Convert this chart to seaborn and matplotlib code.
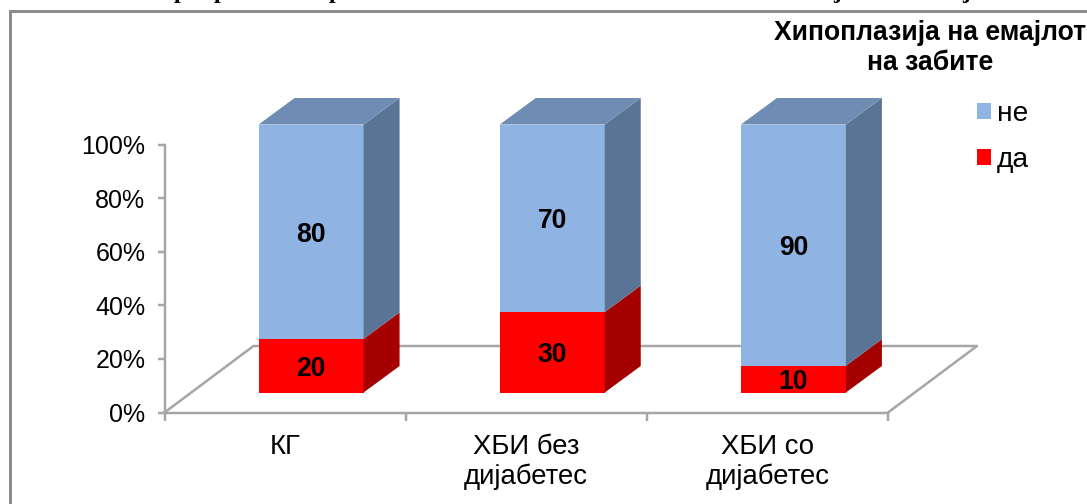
import numpy as np
import pandas as pd
import matplotlib
matplotlib.use("Agg")
import matplotlib.pyplot as plt
import seaborn as sns
from matplotlib.lines import Line2D
from matplotlib.patches import Patch, Polygon
from matplotlib.transforms import offset_copy

# Enamel hypoplasia shares per study group (percent)
groups = ["КГ", "ХБИ без\nдијабетес", "ХБИ со\nдијабетес"]
da_values = [20, 30, 10]
ne_values = [80, 70, 90]
y_ticks = [0, 20, 40, 60, 80, 100]
legend_title = "Хипоплазија на емајлот\nна забите"
series_names = ["не", "да"]

# Clipped remains of the caption that sits above the frame: glyph, x in pixels
caption_glyphs = [("р", 180), ("р", 220), ("р", 335), ("ј", 837), ("ј", 966)]

W, H = 1087, 504
BLUE_FRONT, BLUE_TOP, BLUE_SIDE = "#8FB3E3", "#6F8DB4", "#5A7496"
RED_FRONT, RED_SIDE = "#FF0000", "#A50000"
GREY = "#A6A6A6"

sns.set_theme(style="white")
plt.rcParams["font.family"] = ["Liberation Sans", "DejaVu Sans"]
PT = 0.72  # points per pixel at 100 dpi


def box(left, right, bottom_y, top_y):
    """Axes rectangle from pixel edges, with y measured from the top."""
    return [left / W, 1 - bottom_y / H, (right - left) / W, (bottom_y - top_y) / H]


fig = plt.figure(figsize=(W / 100, H / 100), dpi=100, facecolor="white")

# Outer chart frame, open to the right and bottom of the canvas
fig.add_artist(Line2D([9.5 / W, 9.5 / W, 1], [0, 1 - 10.5 / H, 1 - 10.5 / H],
                      color="#8C8C8C", lw=3 * PT, solid_joinstyle="miter"))

for glyph, gx in caption_glyphs:
    fig.text(gx / W, 1 + 2 / H, glyph, family="Liberation Serif", weight="bold",
             size=24 * PT, ha="center", va="baseline", color="black")

# Axis frame with the percentage scale and the category slots
ax = fig.add_axes(box(164.5, 888, 412.5, 144.5))
ax.set_xlim(-0.5, 2.5)
ax.set_ylim(0, 100)
ax.patch.set_alpha(0)
for side in ("top", "right"):
    ax.spines[side].set_visible(False)
for side in ("left", "bottom"):
    ax.spines[side].set_color(GREY)
    ax.spines[side].set_linewidth(2.5 * PT)
ax.set_yticks(y_ticks, [f"{t}%" for t in y_ticks])
ax.set_xticks([-0.5, 0.5, 1.5, 2.5], [])
ax.set_xticks([0, 1, 2], groups, minor=True)
ax.tick_params(axis="y", direction="out", length=7 * PT, width=2.5 * PT, color=GREY,
               labelsize=25 * PT, pad=12 * PT, labelcolor="black", left=True)
ax.tick_params(axis="x", which="major", direction="out", length=8 * PT, width=2.5 * PT,
               color=GREY, bottom=True)
ax.tick_params(axis="x", which="minor", length=0, labelsize=27.5 * PT, pad=21 * PT,
               labelcolor="black")
for lab in ax.get_xticklabels(minor=True):
    lab.set_linespacing(1.22)

# Floor of the 3D box, set back behind the axis line
back = offset_copy(ax.transData, fig=fig, x=89, y=66.5, units="dots")
floor_back = [back.transform((x, 0)) for x in (-0.5, 2.5)]
floor_front = [ax.transData.transform((x, 0)) for x in (-0.5, 2.5)]
floor_path = [floor_front[0], floor_back[0], floor_back[1], floor_front[1]]
ax.add_line(Line2D([p[0] for p in floor_path], [p[1] for p in floor_path],
                   transform=None, color=GREY, lw=2.5 * PT, clip_on=False))

# Bars live on a copy of the scale, shifted onto the middle of the floor
bars = fig.add_axes(box(164.5 + 26, 888 + 26, 412.5 - 20, 144.5 - 20), zorder=2)
bars.patch.set_alpha(0)
totals = np.add(da_values, ne_values)
df = pd.DataFrame({"group": groups, "da": da_values, "total": totals})
BAR_W = 105 / 241.2
sns.barplot(data=df, x="group", y="total", color=BLUE_FRONT, saturation=1,
            width=BAR_W, linewidth=0, ax=bars)
sns.barplot(data=df, x="group", y="da", color=RED_FRONT, saturation=1,
            width=BAR_W, linewidth=0, ax=bars)
bars.set_xlim(-0.5, 2.5)
bars.set_ylim(0, 100)
bars.axis("off")

# Extruded sides and tops of the columns
DX = 36 / 241.2
DY = 26.5 / 2.68
VALUE_SIZE = 26.5 * PT
for i, (da, total) in enumerate(zip(da_values, totals)):
    r = i + BAR_W / 2
    l = i - BAR_W / 2
    for lo, hi, col in ((0, da, RED_SIDE), (da, total, BLUE_SIDE)):
        bars.add_patch(Polygon([(r, lo), (r, hi), (r + DX, hi + DY), (r + DX, lo + DY)],
                               closed=True, fc=col, ec="none", clip_on=False))
    bars.add_patch(Polygon([(l, total), (l + DX, total + DY), (r + DX, total + DY), (r, total)],
                           closed=True, fc=BLUE_TOP, ec="none", clip_on=False))
    bars.text(i, da / 2, f"{da}", ha="center", va="center_baseline", weight="bold",
              size=VALUE_SIZE, color="black")
    bars.text(i, da + (total - da) / 2, f"{ne_values[i]}", ha="center", va="center_baseline",
              weight="bold", size=VALUE_SIZE, color="black")

# Legend: title and entries
fig.text(930 / W, 1 - 48 / H, legend_title, ha="center", va="center", weight="bold",
         size=26.5 * PT, linespacing=1.15, color="black")
fig.legend(handles=[Patch(fc=BLUE_FRONT, ec="none"), Patch(fc=RED_FRONT, ec="none")],
           labels=series_names, loc="upper left",
           bbox_to_anchor=(977 / W, 1 - 101 / H), frameon=False, borderpad=0, borderaxespad=0,
           fontsize=28 * PT, handlelength=14 / 28, handleheight=14 / 28,
           handletextpad=6 / 28, labelspacing=0.72, labelcolor="black")

fig.savefig("out.png", dpi=100)
